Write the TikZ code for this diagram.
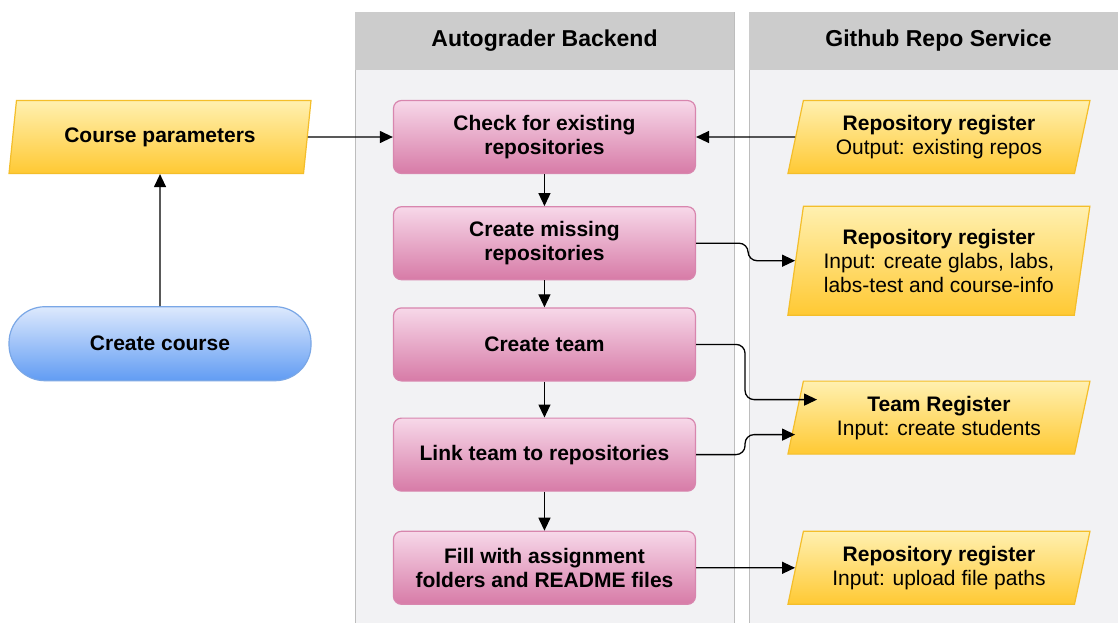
\documentclass[tikz,border=0pt]{standalone}
\usepackage{fontspec}
\setmainfont{Liberation Sans}
\usetikzlibrary{
    shapes.geometric,
    positioning,
    arrows.meta
}

\definecolor{ioTop}{HTML}{FFF0B0}
\definecolor{ioBot}{HTML}{FFC933}
\definecolor{ioLine}{HTML}{F4BE2A}
\definecolor{pinkTop}{HTML}{F7D8E9}
\definecolor{pinkBot}{HTML}{D77BA7}
\definecolor{pinkLine}{HTML}{D886AE}
\definecolor{blueTop}{HTML}{DDE9FD}
\definecolor{blueBot}{HTML}{619CF3}
\definecolor{blueLine}{HTML}{7AA7E6}
\definecolor{laneHead}{HTML}{CCCCCC}
\definecolor{laneBody}{HTML}{F2F2F4}
\definecolor{laneLine}{HTML}{BDBDBD}

\begin{document}
\begin{tikzpicture}[
      x=1pt, y=-1pt,
      % Set distances between nodes
      node distance=32pt and 99pt,
      font=\fontsize{21}{24}\selectfont,
      % Define styles for the elements
      base/.style={
          draw,
          line width=1.2pt,
          text centered,
          align=center,
          inner sep=2pt,
          minimum width=302pt,
          minimum height=73pt
        },
      process/.style={
          base,
          rectangle,
          rounded corners=8pt,
          draw=pinkLine,
          top color=pinkTop,
          bottom color=pinkBot,
          font=\fontsize{21}{24}\selectfont\bfseries
        },
      io/.style={
          base,
          trapezium,
          trapezium left angle=72,
          trapezium right angle=108,
          trapezium stretches body,
          draw=ioLine,
          top color=ioTop,
          bottom color=ioBot
        },
      startbox/.style={
          base,
          rectangle,
          rounded corners=36pt,
          minimum height=74pt,
          draw=blueLine,
          top color=blueTop,
          bottom color=blueBot,
          font=\fontsize{21}{24}\selectfont\bfseries
        },
      lane/.style={
          draw=laneLine,
          line width=0.8pt,
          fill=laneBody
        },
      lanehead/.style={
          rectangle,
          fill=laneHead,
          minimum width=379pt,
          minimum height=58pt,
          font=\fontsize{23}{26}\selectfont\bfseries
        },
      arrow/.style={
          -{Triangle[length=13pt,width=12pt]}, % Arrow tip style
          line width=1.3pt
        },
      elbow/.style={
          arrow,
          rounded corners=9pt
        }
    ]

    \useasboundingbox[fill=white] (0,0) rectangle (1118,622);

    % Draw the swimlanes
    \draw[lane] (355,12) rectangle (734,640);
    \draw[lane] (749,12) rectangle (1128,640);
    \node[lanehead] (backend) at (544.5,41) {Autograder Backend};
    \node[lanehead] (github) at (938.5,41) {Github Repo Service};

    % Place the nodes
    \node[io] (params) at (160,137) {\textbf{Course parameters}};

    \node[startbox, below=132pt of params] (course) {Create course};

    \node[process, right=85pt of params] (check) {
      Check for existing\\repositories
    };

    \node[process, below=of check] (missing) {
      Create missing\\repositories
    };

    \node[process, below=27pt of missing] (crteam) {Create team};

    \node[process, below=36pt of crteam] (link) {Link team to repositories};

    \node[process, below=39pt of link] (fill) {
      Fill with assignment\\folders and README files
    };

    \node[io, right=of check] (reg1) {
      \textbf{Repository register}\\Output: existing repos
    };

    \node[io, right=of missing, yshift=-17.5pt, minimum height=109pt,
          trapezium left angle=77, trapezium right angle=103] (reg2) {
      \textbf{Repository register}\\Input: create glabs, labs,\\labs-test and course-info
    };

    \node[io, right=of link, yshift=37pt] (team) {
      \textbf{Team Register}\\Input: create students
    };

    \node[io, right=of fill] (reg3) {
      \textbf{Repository register}\\Input: upload file paths
    };

    % Draw the arrows connecting the nodes
    \draw[arrow] (course) -- (params);
    \draw[arrow] (params) -- (check);
    \draw[arrow] (reg1) -- (check);
    \draw[arrow] (check) -- (missing);
    \draw[arrow] (missing) -- (crteam);
    \draw[arrow] (crteam) -- (link);
    \draw[arrow] (link) -- (fill);

    % Draw the arrows into the Github lane
    \draw[elbow] (missing.east) -- ++(52,0) |- (reg2);
    \draw[elbow] (crteam.east) -- ++(49,0) |- ([xshift=22pt,yshift=18pt]team.west);
    \draw[elbow] (link.east) -- ++(49,0) |- ([yshift=-17pt]team.west);
    \draw[arrow] (fill) -- (reg3);

  \end{tikzpicture}
\end{document}
